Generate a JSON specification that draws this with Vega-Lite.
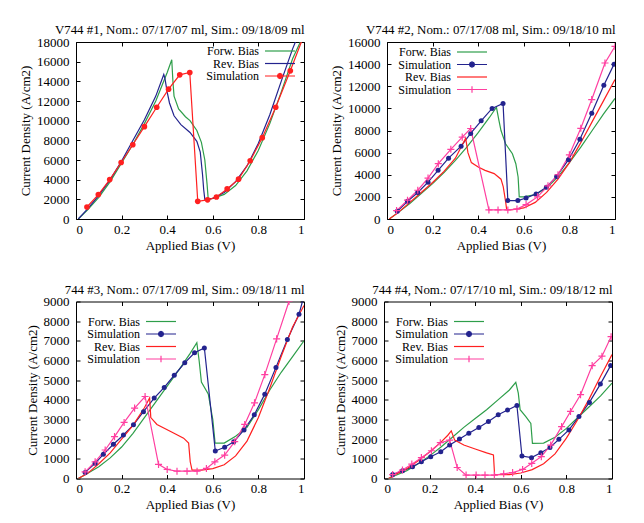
{
"$schema": "https://vega.github.io/schema/vega-lite/v6.json",
"padding": {"left": 19, "top": 23, "right": 0, "bottom": 0},
"background": "white",
"data": {"name": "iv"},
"datasets": {"iv": [
{"p":1,"s":"fwd","x":0.01,"y":0},{"p":1,"s":"fwd","x":0.05,"y":900},{"p":1,"s":"fwd","x":0.1,"y":2200},{"p":1,"s":"fwd","x":0.15,"y":3800},{"p":1,"s":"fwd","x":0.2,"y":5700},{"p":1,"s":"fwd","x":0.25,"y":7600},{"p":1,"s":"fwd","x":0.3,"y":9700},{"p":1,"s":"fwd","x":0.35,"y":12000},{"p":1,"s":"fwd","x":0.4,"y":14900},{"p":1,"s":"fwd","x":0.42,"y":16200},{"p":1,"s":"fwd","x":0.425,"y":14000},{"p":1,"s":"fwd","x":0.43,"y":12500},{"p":1,"s":"fwd","x":0.45,"y":11200},{"p":1,"s":"fwd","x":0.48,"y":10400},{"p":1,"s":"fwd","x":0.5,"y":10000},{"p":1,"s":"fwd","x":0.53,"y":9000},{"p":1,"s":"fwd","x":0.55,"y":7800},{"p":1,"s":"fwd","x":0.565,"y":6000},{"p":1,"s":"fwd","x":0.575,"y":3500},{"p":1,"s":"fwd","x":0.58,"y":2000},{"p":1,"s":"fwd","x":0.6,"y":2100},{"p":1,"s":"fwd","x":0.65,"y":2500},{"p":1,"s":"fwd","x":0.7,"y":3400},{"p":1,"s":"fwd","x":0.75,"y":4900},{"p":1,"s":"fwd","x":0.8,"y":7000},{"p":1,"s":"fwd","x":0.85,"y":9700},{"p":1,"s":"fwd","x":0.9,"y":12900},{"p":1,"s":"fwd","x":0.95,"y":16300},{"p":1,"s":"fwd","x":0.99,"y":18300},
{"p":1,"s":"rev","x":0.01,"y":0},{"p":1,"s":"rev","x":0.05,"y":1000},{"p":1,"s":"rev","x":0.1,"y":2400},{"p":1,"s":"rev","x":0.15,"y":4000},{"p":1,"s":"rev","x":0.2,"y":5900},{"p":1,"s":"rev","x":0.25,"y":8000},{"p":1,"s":"rev","x":0.3,"y":10100},{"p":1,"s":"rev","x":0.35,"y":12500},{"p":1,"s":"rev","x":0.385,"y":14700},{"p":1,"s":"rev","x":0.39,"y":14300},{"p":1,"s":"rev","x":0.4,"y":12900},{"p":1,"s":"rev","x":0.41,"y":11800},{"p":1,"s":"rev","x":0.43,"y":10500},{"p":1,"s":"rev","x":0.46,"y":9600},{"p":1,"s":"rev","x":0.5,"y":8800},{"p":1,"s":"rev","x":0.53,"y":7900},{"p":1,"s":"rev","x":0.545,"y":6800},{"p":1,"s":"rev","x":0.555,"y":4500},{"p":1,"s":"rev","x":0.56,"y":3000},{"p":1,"s":"rev","x":0.565,"y":2000},{"p":1,"s":"rev","x":0.6,"y":2100},{"p":1,"s":"rev","x":0.65,"y":2700},{"p":1,"s":"rev","x":0.7,"y":3800},{"p":1,"s":"rev","x":0.75,"y":5400},{"p":1,"s":"rev","x":0.8,"y":7700},{"p":1,"s":"rev","x":0.85,"y":10600},{"p":1,"s":"rev","x":0.9,"y":14000},{"p":1,"s":"rev","x":0.95,"y":17300},{"p":1,"s":"rev","x":0.98,"y":19000},
{"p":1,"s":"sim","x":0.048,"y":1220},{"p":1,"s":"sim","x":0.098,"y":2480},{"p":1,"s":"sim","x":0.148,"y":4010},{"p":1,"s":"sim","x":0.198,"y":5750},{"p":1,"s":"sim","x":0.249,"y":7550},{"p":1,"s":"sim","x":0.3,"y":9390},{"p":1,"s":"sim","x":0.354,"y":11360},{"p":1,"s":"sim","x":0.406,"y":13200},{"p":1,"s":"sim","x":0.455,"y":14660},{"p":1,"s":"sim","x":0.499,"y":14900},{"p":1,"s":"sim","x":0.534,"y":1800},{"p":1,"s":"sim","x":0.577,"y":1950},{"p":1,"s":"sim","x":0.616,"y":2240},{"p":1,"s":"sim","x":0.663,"y":3060},{"p":1,"s":"sim","x":0.713,"y":4050},{"p":1,"s":"sim","x":0.764,"y":5920},{"p":1,"s":"sim","x":0.817,"y":8270},{"p":1,"s":"sim","x":0.876,"y":11360},{"p":1,"s":"sim","x":0.94,"y":15070},{"p":1,"s":"sim","x":1.0,"y":18700},

{"p":2,"s":"fwd","x":0.01,"y":0},{"p":2,"s":"fwd","x":0.05,"y":600},{"p":2,"s":"fwd","x":0.1,"y":1400},{"p":2,"s":"fwd","x":0.15,"y":2300},{"p":2,"s":"fwd","x":0.2,"y":3200},{"p":2,"s":"fwd","x":0.25,"y":4200},{"p":2,"s":"fwd","x":0.3,"y":5300},{"p":2,"s":"fwd","x":0.35,"y":6500},{"p":2,"s":"fwd","x":0.4,"y":7800},{"p":2,"s":"fwd","x":0.45,"y":9200},{"p":2,"s":"fwd","x":0.48,"y":10100},{"p":2,"s":"fwd","x":0.49,"y":9000},{"p":2,"s":"fwd","x":0.5,"y":8000},{"p":2,"s":"fwd","x":0.52,"y":6800},{"p":2,"s":"fwd","x":0.55,"y":5900},{"p":2,"s":"fwd","x":0.565,"y":5000},{"p":2,"s":"fwd","x":0.575,"y":3800},{"p":2,"s":"fwd","x":0.58,"y":2000},{"p":2,"s":"fwd","x":0.6,"y":2000},{"p":2,"s":"fwd","x":0.65,"y":2200},{"p":2,"s":"fwd","x":0.7,"y":2800},{"p":2,"s":"fwd","x":0.75,"y":3800},{"p":2,"s":"fwd","x":0.8,"y":5100},{"p":2,"s":"fwd","x":0.85,"y":6500},{"p":2,"s":"fwd","x":0.9,"y":8000},{"p":2,"s":"fwd","x":0.95,"y":9500},{"p":2,"s":"fwd","x":1.0,"y":10900},
{"p":2,"s":"simF","x":0.045,"y":700},{"p":2,"s":"simF","x":0.09,"y":1600},{"p":2,"s":"simF","x":0.135,"y":2400},{"p":2,"s":"simF","x":0.18,"y":3330},{"p":2,"s":"simF","x":0.224,"y":4400},{"p":2,"s":"simF","x":0.27,"y":5500},{"p":2,"s":"simF","x":0.325,"y":6580},{"p":2,"s":"simF","x":0.367,"y":7730},{"p":2,"s":"simF","x":0.413,"y":8880},{"p":2,"s":"simF","x":0.461,"y":10000},{"p":2,"s":"simF","x":0.509,"y":10450},{"p":2,"s":"simF","x":0.53,"y":1670},{"p":2,"s":"simF","x":0.574,"y":1670},{"p":2,"s":"simF","x":0.61,"y":1900},{"p":2,"s":"simF","x":0.654,"y":2270},{"p":2,"s":"simF","x":0.699,"y":2880},{"p":2,"s":"simF","x":0.744,"y":3850},{"p":2,"s":"simF","x":0.796,"y":5360},{"p":2,"s":"simF","x":0.846,"y":7200},{"p":2,"s":"simF","x":0.898,"y":9550},{"p":2,"s":"simF","x":0.951,"y":12100},{"p":2,"s":"simF","x":0.996,"y":14000},
{"p":2,"s":"rev","x":0.01,"y":0},{"p":2,"s":"rev","x":0.05,"y":600},{"p":2,"s":"rev","x":0.1,"y":1500},{"p":2,"s":"rev","x":0.15,"y":2400},{"p":2,"s":"rev","x":0.2,"y":3300},{"p":2,"s":"rev","x":0.25,"y":4300},{"p":2,"s":"rev","x":0.3,"y":5500},{"p":2,"s":"rev","x":0.345,"y":7300},{"p":2,"s":"rev","x":0.355,"y":6000},{"p":2,"s":"rev","x":0.37,"y":5100},{"p":2,"s":"rev","x":0.4,"y":4700},{"p":2,"s":"rev","x":0.43,"y":4400},{"p":2,"s":"rev","x":0.47,"y":4100},{"p":2,"s":"rev","x":0.5,"y":3600},{"p":2,"s":"rev","x":0.51,"y":2900},{"p":2,"s":"rev","x":0.52,"y":1600},{"p":2,"s":"rev","x":0.525,"y":850},{"p":2,"s":"rev","x":0.55,"y":850},{"p":2,"s":"rev","x":0.6,"y":1000},{"p":2,"s":"rev","x":0.65,"y":1500},{"p":2,"s":"rev","x":0.7,"y":2400},{"p":2,"s":"rev","x":0.75,"y":3600},{"p":2,"s":"rev","x":0.8,"y":5100},{"p":2,"s":"rev","x":0.85,"y":6900},{"p":2,"s":"rev","x":0.9,"y":8800},{"p":2,"s":"rev","x":0.95,"y":10700},{"p":2,"s":"rev","x":1.0,"y":12600},
{"p":2,"s":"simR","x":0.042,"y":760},{"p":2,"s":"simR","x":0.09,"y":1700},{"p":2,"s":"simR","x":0.135,"y":2600},{"p":2,"s":"simR","x":0.18,"y":3700},{"p":2,"s":"simR","x":0.225,"y":5000},{"p":2,"s":"simR","x":0.28,"y":6300},{"p":2,"s":"simR","x":0.33,"y":7400},{"p":2,"s":"simR","x":0.367,"y":8180},{"p":2,"s":"simR","x":0.447,"y":820},{"p":2,"s":"simR","x":0.487,"y":820},{"p":2,"s":"simR","x":0.53,"y":820},{"p":2,"s":"simR","x":0.57,"y":900},{"p":2,"s":"simR","x":0.61,"y":1300},{"p":2,"s":"simR","x":0.66,"y":2000},{"p":2,"s":"simR","x":0.706,"y":3000},{"p":2,"s":"simR","x":0.75,"y":4000},{"p":2,"s":"simR","x":0.8,"y":5800},{"p":2,"s":"simR","x":0.85,"y":8200},{"p":2,"s":"simR","x":0.898,"y":10800},{"p":2,"s":"simR","x":0.956,"y":14100},{"p":2,"s":"simR","x":1.0,"y":15600},

{"p":3,"s":"fwd","x":0.01,"y":0},{"p":3,"s":"fwd","x":0.05,"y":250},{"p":3,"s":"fwd","x":0.1,"y":600},{"p":3,"s":"fwd","x":0.15,"y":1050},{"p":3,"s":"fwd","x":0.2,"y":1600},{"p":3,"s":"fwd","x":0.25,"y":2300},{"p":3,"s":"fwd","x":0.3,"y":3100},{"p":3,"s":"fwd","x":0.35,"y":3900},{"p":3,"s":"fwd","x":0.4,"y":4700},{"p":3,"s":"fwd","x":0.45,"y":5500},{"p":3,"s":"fwd","x":0.5,"y":6350},{"p":3,"s":"fwd","x":0.53,"y":6900},{"p":3,"s":"fwd","x":0.54,"y":6000},{"p":3,"s":"fwd","x":0.55,"y":4900},{"p":3,"s":"fwd","x":0.58,"y":4300},{"p":3,"s":"fwd","x":0.6,"y":3000},{"p":3,"s":"fwd","x":0.61,"y":1800},{"p":3,"s":"fwd","x":0.65,"y":1800},{"p":3,"s":"fwd","x":0.7,"y":2150},{"p":3,"s":"fwd","x":0.75,"y":2600},{"p":3,"s":"fwd","x":0.8,"y":3500},{"p":3,"s":"fwd","x":0.85,"y":4500},{"p":3,"s":"fwd","x":0.9,"y":5400},{"p":3,"s":"fwd","x":0.95,"y":6200},{"p":3,"s":"fwd","x":1.0,"y":7000},
{"p":3,"s":"simF","x":0.04,"y":310},{"p":3,"s":"simF","x":0.084,"y":770},{"p":3,"s":"simF","x":0.12,"y":1230},{"p":3,"s":"simF","x":0.164,"y":1740},{"p":3,"s":"simF","x":0.208,"y":2210},{"p":3,"s":"simF","x":0.252,"y":2730},{"p":3,"s":"simF","x":0.296,"y":3400},{"p":3,"s":"simF","x":0.343,"y":4090},{"p":3,"s":"simF","x":0.387,"y":4630},{"p":3,"s":"simF","x":0.431,"y":5250},{"p":3,"s":"simF","x":0.477,"y":5880},{"p":3,"s":"simF","x":0.52,"y":6390},{"p":3,"s":"simF","x":0.563,"y":6640},{"p":3,"s":"simF","x":0.611,"y":1400},{"p":3,"s":"simF","x":0.652,"y":1590},{"p":3,"s":"simF","x":0.692,"y":1870},{"p":3,"s":"simF","x":0.737,"y":2470},{"p":3,"s":"simF","x":0.782,"y":3240},{"p":3,"s":"simF","x":0.828,"y":4290},{"p":3,"s":"simF","x":0.877,"y":5650},{"p":3,"s":"simF","x":0.927,"y":7070},{"p":3,"s":"simF","x":0.978,"y":8350},{"p":3,"s":"simF","x":1.0,"y":9300},
{"p":3,"s":"rev","x":0.01,"y":0},{"p":3,"s":"rev","x":0.05,"y":250},{"p":3,"s":"rev","x":0.1,"y":750},{"p":3,"s":"rev","x":0.15,"y":1300},{"p":3,"s":"rev","x":0.2,"y":2000},{"p":3,"s":"rev","x":0.25,"y":2700},{"p":3,"s":"rev","x":0.3,"y":3600},{"p":3,"s":"rev","x":0.323,"y":4100},{"p":3,"s":"rev","x":0.328,"y":3100},{"p":3,"s":"rev","x":0.355,"y":2750},{"p":3,"s":"rev","x":0.413,"y":2400},{"p":3,"s":"rev","x":0.472,"y":2050},{"p":3,"s":"rev","x":0.494,"y":1800},{"p":3,"s":"rev","x":0.501,"y":850},{"p":3,"s":"rev","x":0.509,"y":430},{"p":3,"s":"rev","x":0.55,"y":430},{"p":3,"s":"rev","x":0.6,"y":500},{"p":3,"s":"rev","x":0.65,"y":700},{"p":3,"s":"rev","x":0.7,"y":1150},{"p":3,"s":"rev","x":0.75,"y":1900},{"p":3,"s":"rev","x":0.8,"y":3100},{"p":3,"s":"rev","x":0.85,"y":4600},{"p":3,"s":"rev","x":0.9,"y":6200},{"p":3,"s":"rev","x":0.95,"y":7700},{"p":3,"s":"rev","x":1.0,"y":8800},
{"p":3,"s":"simR","x":0.04,"y":340},{"p":3,"s":"simR","x":0.084,"y":850},{"p":3,"s":"simR","x":0.128,"y":1450},{"p":3,"s":"simR","x":0.169,"y":2130},{"p":3,"s":"simR","x":0.211,"y":2850},{"p":3,"s":"simR","x":0.257,"y":3580},{"p":3,"s":"simR","x":0.303,"y":4170},{"p":3,"s":"simR","x":0.362,"y":720},{"p":3,"s":"simR","x":0.4,"y":460},{"p":3,"s":"simR","x":0.443,"y":370},{"p":3,"s":"simR","x":0.487,"y":370},{"p":3,"s":"simR","x":0.531,"y":370},{"p":3,"s":"simR","x":0.572,"y":510},{"p":3,"s":"simR","x":0.609,"y":850},{"p":3,"s":"simR","x":0.652,"y":1190},{"p":3,"s":"simR","x":0.696,"y":1870},{"p":3,"s":"simR","x":0.74,"y":2750},{"p":3,"s":"simR","x":0.783,"y":3850},{"p":3,"s":"simR","x":0.828,"y":5280},{"p":3,"s":"simR","x":0.88,"y":7100},{"p":3,"s":"simR","x":0.934,"y":9000},{"p":3,"s":"simR","x":0.98,"y":10800},

{"p":4,"s":"fwd","x":0.02,"y":0},{"p":4,"s":"fwd","x":0.05,"y":150},{"p":4,"s":"fwd","x":0.1,"y":400},{"p":4,"s":"fwd","x":0.15,"y":750},{"p":4,"s":"fwd","x":0.2,"y":1150},{"p":4,"s":"fwd","x":0.25,"y":1600},{"p":4,"s":"fwd","x":0.3,"y":2100},{"p":4,"s":"fwd","x":0.35,"y":2600},{"p":4,"s":"fwd","x":0.4,"y":3050},{"p":4,"s":"fwd","x":0.45,"y":3500},{"p":4,"s":"fwd","x":0.5,"y":4000},{"p":4,"s":"fwd","x":0.55,"y":4500},{"p":4,"s":"fwd","x":0.578,"y":4890},{"p":4,"s":"fwd","x":0.589,"y":4340},{"p":4,"s":"fwd","x":0.597,"y":3500},{"p":4,"s":"fwd","x":0.622,"y":3150},{"p":4,"s":"fwd","x":0.644,"y":2800},{"p":4,"s":"fwd","x":0.651,"y":1790},{"p":4,"s":"fwd","x":0.7,"y":1800},{"p":4,"s":"fwd","x":0.75,"y":2100},{"p":4,"s":"fwd","x":0.8,"y":2550},{"p":4,"s":"fwd","x":0.85,"y":3100},{"p":4,"s":"fwd","x":0.9,"y":3650},{"p":4,"s":"fwd","x":0.95,"y":4200},{"p":4,"s":"fwd","x":1.0,"y":4850},
{"p":4,"s":"simF","x":0.038,"y":200},{"p":4,"s":"simF","x":0.081,"y":390},{"p":4,"s":"simF","x":0.125,"y":600},{"p":4,"s":"simF","x":0.164,"y":850},{"p":4,"s":"simF","x":0.205,"y":1110},{"p":4,"s":"simF","x":0.249,"y":1360},{"p":4,"s":"simF","x":0.288,"y":1700},{"p":4,"s":"simF","x":0.331,"y":2010},{"p":4,"s":"simF","x":0.372,"y":2300},{"p":4,"s":"simF","x":0.416,"y":2590},{"p":4,"s":"simF","x":0.458,"y":2900},{"p":4,"s":"simF","x":0.501,"y":3240},{"p":4,"s":"simF","x":0.542,"y":3480},{"p":4,"s":"simF","x":0.583,"y":3710},{"p":4,"s":"simF","x":0.605,"y":1140},{"p":4,"s":"simF","x":0.647,"y":1060},{"p":4,"s":"simF","x":0.688,"y":1310},{"p":4,"s":"simF","x":0.728,"y":1580},{"p":4,"s":"simF","x":0.767,"y":1990},{"p":4,"s":"simF","x":0.811,"y":2470},{"p":4,"s":"simF","x":0.855,"y":3150},{"p":4,"s":"simF","x":0.901,"y":3870},{"p":4,"s":"simF","x":0.949,"y":4800},{"p":4,"s":"simF","x":0.994,"y":5740},
{"p":4,"s":"rev","x":0.02,"y":0},{"p":4,"s":"rev","x":0.05,"y":200},{"p":4,"s":"rev","x":0.1,"y":500},{"p":4,"s":"rev","x":0.15,"y":900},{"p":4,"s":"rev","x":0.2,"y":1350},{"p":4,"s":"rev","x":0.25,"y":1850},{"p":4,"s":"rev","x":0.28,"y":2200},{"p":4,"s":"rev","x":0.295,"y":2420},{"p":4,"s":"rev","x":0.31,"y":1950},{"p":4,"s":"rev","x":0.35,"y":1700},{"p":4,"s":"rev","x":0.4,"y":1500},{"p":4,"s":"rev","x":0.45,"y":1300},{"p":4,"s":"rev","x":0.48,"y":1200},{"p":4,"s":"rev","x":0.485,"y":200},{"p":4,"s":"rev","x":0.55,"y":200},{"p":4,"s":"rev","x":0.6,"y":280},{"p":4,"s":"rev","x":0.65,"y":450},{"p":4,"s":"rev","x":0.7,"y":750},{"p":4,"s":"rev","x":0.75,"y":1250},{"p":4,"s":"rev","x":0.8,"y":2050},{"p":4,"s":"rev","x":0.85,"y":3000},{"p":4,"s":"rev","x":0.9,"y":4050},{"p":4,"s":"rev","x":0.95,"y":5200},{"p":4,"s":"rev","x":1.0,"y":6300},
{"p":4,"s":"simR","x":0.038,"y":200},{"p":4,"s":"simR","x":0.081,"y":430},{"p":4,"s":"simR","x":0.122,"y":730},{"p":4,"s":"simR","x":0.164,"y":1060},{"p":4,"s":"simR","x":0.208,"y":1410},{"p":4,"s":"simR","x":0.247,"y":1820},{"p":4,"s":"simR","x":0.288,"y":1950},{"p":4,"s":"simR","x":0.321,"y":560},{"p":4,"s":"simR","x":0.36,"y":170},{"p":4,"s":"simR","x":0.404,"y":170},{"p":4,"s":"simR","x":0.443,"y":170},{"p":4,"s":"simR","x":0.484,"y":170},{"p":4,"s":"simR","x":0.525,"y":240},{"p":4,"s":"simR","x":0.564,"y":300},{"p":4,"s":"simR","x":0.608,"y":460},{"p":4,"s":"simR","x":0.648,"y":770},{"p":4,"s":"simR","x":0.69,"y":1110},{"p":4,"s":"simR","x":0.731,"y":1700},{"p":4,"s":"simR","x":0.779,"y":2640},{"p":4,"s":"simR","x":0.818,"y":3410},{"p":4,"s":"simR","x":0.862,"y":4260},{"p":4,"s":"simR","x":0.913,"y":5740},{"p":4,"s":"simR","x":0.956,"y":6220},{"p":4,"s":"simR","x":0.996,"y":7210}
]},
"config": {
  "font": "Liberation Serif",
  "view": {"stroke": "black", "strokeWidth": 1},
  "axis": {"labelFont": "Liberation Serif", "labelFontSize": 13, "labelColor": "black", "titleFont": "Liberation Serif", "titleFontSize": 13, "titleFontWeight": "normal", "titleColor": "black", "tickColor": "black", "domain": false, "grid": false, "tickSize": -4, "labelPadding": 11},
  "axisY": {"titlePadding": 4},
  "axisX": {"titlePadding": 3, "labelPadding": 8},
  "axisTop": {"labelPadding": 0, "minExtent": 0, "maxExtent": 0},
  "axisRight": {"labelPadding": 0, "minExtent": 0, "maxExtent": 0},
  "title": {"font": "Liberation Serif", "fontSize": 12.9, "fontWeight": "normal", "anchor": "end", "offset": 0, "dy": 5, "color": "black"},
  "legend": {"labelFont": "Liberation Serif", "labelFontSize": 12, "labelColor": "black", "labelAlign": "right", "labelBaseline": "middle", "labelOffset": -27, "symbolOffset": 73, "symbolSize": 36, "symbolType": "M-5,0L5,0", "symbolStrokeWidth": 1.2, "rowPadding": 0.5, "padding": 0, "labelLimit": 200}
},
"spacing": 29.5,
"resolve": {"scale": {"color": "independent", "x": "independent", "y": "independent"}, "legend": {"color": "independent"}},
"vconcat": [
 {"spacing": 25,
  "resolve": {"scale": {"color": "independent", "x": "independent", "y": "independent"}, "legend": {"color": "independent"}},
  "hconcat": [
  {"width": 228, "height": 177,
   "title": {"text": "V744 #1, Nom.: 07/17/07 ml, Sim.: 09/18/09 ml"},
   "transform": [{"filter": "datum.p == 1"}],
   "layer": [
    {"mark": {"type": "line", "clip": true, "strokeWidth": 1.2},
     "encoding": {
      "x": {"field": "x", "type": "quantitative", "scale": {"domain": [0, 1], "nice": false}, "axis": {"orient": "bottom", "values": [0, 0.2, 0.4, 0.6, 0.8, 1], "format": "~g", "title": "Applied Bias (V)"}},
      "y": {"field": "y", "type": "quantitative", "scale": {"domain": [0, 18000], "nice": false}, "axis": {"orient": "left", "values": [0, 2000, 4000, 6000, 8000, 10000, 12000, 14000, 16000, 18000], "format": "d", "title": "Current Density (A/cm2)"}},
      "color": {"field": "s", "type": "nominal", "scale": {"domain": ["fwd", "rev", "sim"], "range": ["#2e9e4a", "#23238e", "#ff2020"]},
        "legend": {"title": null, "orient": "none", "legendX": 125, "legendY": 3, "direction": "vertical",
          "labelExpr": "datum.value == 'fwd' ? 'Forw. Bias' : datum.value == 'rev' ? 'Rev. Bias' : 'Simulation'",
          "encode": {"symbols": {"update": {
            "shape": [{"test": "datum.value === 'sim'", "value": "M-5,0L5,0M0.85,0L0.6,0.6L0,0.85L-0.6,0.6L-0.85,0L-0.6,-0.6L0,-0.85L0.6,-0.6Z"}, {"value": "M-5,0L5,0"}],
            "fill": [{"test": "datum.value === 'sim'", "value": "#ff2020"}, {"value": "transparent"}]}}}}}
     }},
    {"transform": [{"filter": "datum.s == 'sim'"}],
     "mark": {"type": "point", "clip": true, "filled": true, "shape": "circle", "size": 32, "opacity": 1},
     "encoding": {
      "x": {"field": "x", "type": "quantitative", "scale": {"domain": [0, 1], "nice": false}, "axis": {"orient": "top", "values": [0, 0.2, 0.4, 0.6, 0.8, 1], "labels": false, "title": null}},
      "y": {"field": "y", "type": "quantitative", "scale": {"domain": [0, 18000], "nice": false}, "axis": {"orient": "right", "values": [0, 2000, 4000, 6000, 8000, 10000, 12000, 14000, 16000, 18000], "labels": false, "title": null}},
      "color": {"field": "s", "type": "nominal"}
     }}
   ],
   "resolve": {"axis": {"x": "independent", "y": "independent"}}
  },
  {"width": 228, "height": 177,
   "title": {"text": "V744 #2, Nom.: 07/17/08 ml, Sim.: 09/18/10 ml"},
   "transform": [{"filter": "datum.p == 2"}],
   "layer": [
    {"mark": {"type": "line", "clip": true, "strokeWidth": 1.2},
     "encoding": {
      "x": {"field": "x", "type": "quantitative", "scale": {"domain": [0, 1], "nice": false}, "axis": {"orient": "bottom", "values": [0, 0.2, 0.4, 0.6, 0.8, 1], "format": "~g", "title": "Applied Bias (V)"}},
      "y": {"field": "y", "type": "quantitative", "scale": {"domain": [0, 16000], "nice": false}, "axis": {"orient": "left", "values": [0, 2000, 4000, 6000, 8000, 10000, 12000, 14000, 16000], "format": "d", "title": "Current Density (A/cm2)"}},
      "color": {"field": "s", "type": "nominal", "scale": {"domain": ["fwd", "simF", "rev", "simR"], "range": ["#2e9e4a", "#23238e", "#ff2020", "#ff3fa0"]},
        "legend": {"title": null, "orient": "none", "legendX": 6, "legendY": 4, "direction": "vertical",
          "labelExpr": "datum.value == 'fwd' ? 'Forw. Bias' : datum.value == 'rev' ? 'Rev. Bias' : 'Simulation'",
          "encode": {"symbols": {"update": {
            "shape": [{"test": "datum.value === 'simF'", "value": "M-5,0L5,0M0.85,0L0.6,0.6L0,0.85L-0.6,0.6L-0.85,0L-0.6,-0.6L0,-0.85L0.6,-0.6Z"}, {"test": "datum.value === 'simR'", "value": "M-5,0L5,0M0,-1.1L0,1.1"}, {"value": "M-5,0L5,0"}],
            "fill": [{"test": "datum.value === 'simF'", "value": "#23238e"}, {"value": "transparent"}]}}}}}
     }},
    {"transform": [{"filter": "datum.s == 'simF'"}],
     "mark": {"type": "point", "clip": true, "filled": true, "shape": "circle", "size": 25, "opacity": 1},
     "encoding": {
      "x": {"field": "x", "type": "quantitative", "scale": {"domain": [0, 1], "nice": false}, "axis": {"orient": "top", "values": [0, 0.2, 0.4, 0.6, 0.8, 1], "labels": false, "title": null}},
      "y": {"field": "y", "type": "quantitative", "scale": {"domain": [0, 16000], "nice": false}, "axis": {"orient": "right", "values": [0, 2000, 4000, 6000, 8000, 10000, 12000, 14000, 16000], "labels": false, "title": null}},
      "color": {"field": "s", "type": "nominal"}
     }},
    {"transform": [{"filter": "datum.s == 'simR'"}],
     "mark": {"type": "point", "clip": true, "filled": false, "shape": "M-1,0L1,0M0,-1L0,1", "size": 50, "strokeWidth": 1.2, "opacity": 1},
     "encoding": {
      "x": {"field": "x", "type": "quantitative", "scale": {"domain": [0, 1], "nice": false}, "axis": null},
      "y": {"field": "y", "type": "quantitative", "scale": {"domain": [0, 16000], "nice": false}, "axis": null},
      "color": {"field": "s", "type": "nominal"}
     }}
   ],
   "resolve": {"axis": {"x": "independent", "y": "independent"}}
  }
 ]},
 {"spacing": 28,
  "resolve": {"scale": {"color": "independent", "x": "independent", "y": "independent"}, "legend": {"color": "independent"}},
  "hconcat": [
  {"width": 228, "height": 177,
   "title": {"text": "744 #3, Nom.: 07/17/09 ml, Sim.: 09/18/11 ml"},
   "transform": [{"filter": "datum.p == 3"}],
   "layer": [
    {"mark": {"type": "line", "clip": true, "strokeWidth": 1.2},
     "encoding": {
      "x": {"field": "x", "type": "quantitative", "scale": {"domain": [0, 1], "nice": false}, "axis": {"orient": "bottom", "values": [0, 0.2, 0.4, 0.6, 0.8, 1], "format": "~g", "title": "Applied Bias (V)"}},
      "y": {"field": "y", "type": "quantitative", "scale": {"domain": [0, 9000], "nice": false}, "axis": {"orient": "left", "values": [0, 1000, 2000, 3000, 4000, 5000, 6000, 7000, 8000, 9000], "format": "d", "title": "Current Density (A/cm2)"}},
      "color": {"field": "s", "type": "nominal", "scale": {"domain": ["fwd", "simF", "rev", "simR"], "range": ["#2e9e4a", "#23238e", "#ff2020", "#ff3fa0"]},
        "legend": {"title": null, "orient": "none", "legendX": 6, "legendY": 14, "direction": "vertical",
          "labelExpr": "datum.value == 'fwd' ? 'Forw. Bias' : datum.value == 'rev' ? 'Rev. Bias' : 'Simulation'",
          "encode": {"symbols": {"update": {
            "shape": [{"test": "datum.value === 'simF'", "value": "M-5,0L5,0M0.85,0L0.6,0.6L0,0.85L-0.6,0.6L-0.85,0L-0.6,-0.6L0,-0.85L0.6,-0.6Z"}, {"test": "datum.value === 'simR'", "value": "M-5,0L5,0M0,-1.1L0,1.1"}, {"value": "M-5,0L5,0"}],
            "fill": [{"test": "datum.value === 'simF'", "value": "#23238e"}, {"value": "transparent"}]}}}}}
     }},
    {"transform": [{"filter": "datum.s == 'simF'"}],
     "mark": {"type": "point", "clip": true, "filled": true, "shape": "circle", "size": 25, "opacity": 1},
     "encoding": {
      "x": {"field": "x", "type": "quantitative", "scale": {"domain": [0, 1], "nice": false}, "axis": {"orient": "top", "values": [0, 0.2, 0.4, 0.6, 0.8, 1], "labels": false, "title": null}},
      "y": {"field": "y", "type": "quantitative", "scale": {"domain": [0, 9000], "nice": false}, "axis": {"orient": "right", "values": [0, 1000, 2000, 3000, 4000, 5000, 6000, 7000, 8000, 9000], "labels": false, "title": null}},
      "color": {"field": "s", "type": "nominal"}
     }},
    {"transform": [{"filter": "datum.s == 'simR'"}],
     "mark": {"type": "point", "clip": true, "filled": false, "shape": "M-1,0L1,0M0,-1L0,1", "size": 50, "strokeWidth": 1.2, "opacity": 1},
     "encoding": {
      "x": {"field": "x", "type": "quantitative", "scale": {"domain": [0, 1], "nice": false}, "axis": null},
      "y": {"field": "y", "type": "quantitative", "scale": {"domain": [0, 9000], "nice": false}, "axis": null},
      "color": {"field": "s", "type": "nominal"}
     }}
   ],
   "resolve": {"axis": {"x": "independent", "y": "independent"}}
  },
  {"width": 228, "height": 177,
   "title": {"text": "744 #4, Nom.: 07/17/10 ml, Sim.: 09/18/12 ml"},
   "transform": [{"filter": "datum.p == 4"}],
   "layer": [
    {"mark": {"type": "line", "clip": true, "strokeWidth": 1.2},
     "encoding": {
      "x": {"field": "x", "type": "quantitative", "scale": {"domain": [0, 1], "nice": false}, "axis": {"orient": "bottom", "values": [0, 0.2, 0.4, 0.6, 0.8, 1], "format": "~g", "title": "Applied Bias (V)"}},
      "y": {"field": "y", "type": "quantitative", "scale": {"domain": [0, 9000], "nice": false}, "axis": {"orient": "left", "values": [0, 1000, 2000, 3000, 4000, 5000, 6000, 7000, 8000, 9000], "format": "d", "title": "Current Density (A/cm2)"}},
      "color": {"field": "s", "type": "nominal", "scale": {"domain": ["fwd", "simF", "rev", "simR"], "range": ["#2e9e4a", "#23238e", "#ff2020", "#ff3fa0"]},
        "legend": {"title": null, "orient": "none", "legendX": 6, "legendY": 14, "direction": "vertical",
          "labelExpr": "datum.value == 'fwd' ? 'Forw. Bias' : datum.value == 'rev' ? 'Rev. Bias' : 'Simulation'",
          "encode": {"symbols": {"update": {
            "shape": [{"test": "datum.value === 'simF'", "value": "M-5,0L5,0M0.85,0L0.6,0.6L0,0.85L-0.6,0.6L-0.85,0L-0.6,-0.6L0,-0.85L0.6,-0.6Z"}, {"test": "datum.value === 'simR'", "value": "M-5,0L5,0M0,-1.1L0,1.1"}, {"value": "M-5,0L5,0"}],
            "fill": [{"test": "datum.value === 'simF'", "value": "#23238e"}, {"value": "transparent"}]}}}}}
     }},
    {"transform": [{"filter": "datum.s == 'simF'"}],
     "mark": {"type": "point", "clip": true, "filled": true, "shape": "circle", "size": 25, "opacity": 1},
     "encoding": {
      "x": {"field": "x", "type": "quantitative", "scale": {"domain": [0, 1], "nice": false}, "axis": {"orient": "top", "values": [0, 0.2, 0.4, 0.6, 0.8, 1], "labels": false, "title": null}},
      "y": {"field": "y", "type": "quantitative", "scale": {"domain": [0, 9000], "nice": false}, "axis": {"orient": "right", "values": [0, 1000, 2000, 3000, 4000, 5000, 6000, 7000, 8000, 9000], "labels": false, "title": null}},
      "color": {"field": "s", "type": "nominal"}
     }},
    {"transform": [{"filter": "datum.s == 'simR'"}],
     "mark": {"type": "point", "clip": true, "filled": false, "shape": "M-1,0L1,0M0,-1L0,1", "size": 50, "strokeWidth": 1.2, "opacity": 1},
     "encoding": {
      "x": {"field": "x", "type": "quantitative", "scale": {"domain": [0, 1], "nice": false}, "axis": null},
      "y": {"field": "y", "type": "quantitative", "scale": {"domain": [0, 9000], "nice": false}, "axis": null},
      "color": {"field": "s", "type": "nominal"}
     }}
   ],
   "resolve": {"axis": {"x": "independent", "y": "independent"}}
  }
 ]}
]
}
